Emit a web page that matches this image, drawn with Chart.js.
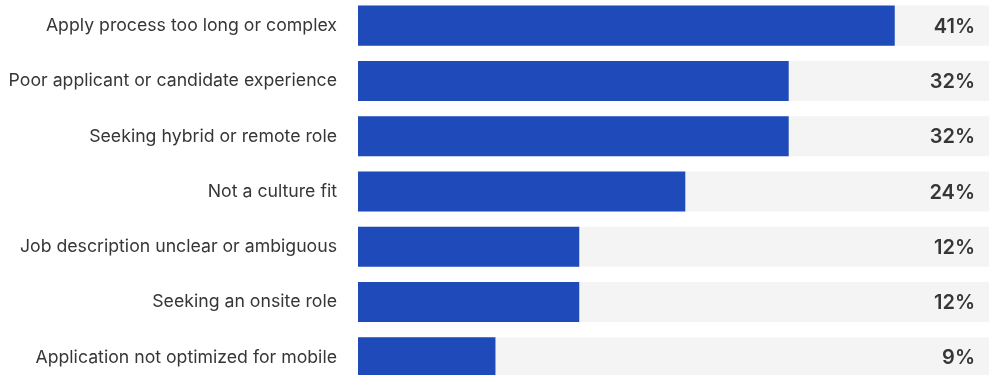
<!DOCTYPE html>
<html>
<head>
<meta charset="utf-8">
<script src="https://cdn.jsdelivr.net/npm/chart.js@4.4.1/dist/chart.umd.min.js"></script>
<style>
    html, body { margin: 0; padding: 0; background: #fff; overflow: hidden; }
    #reasonsChart { position: absolute; left: 0; top: -2px; }
</style>
</head>
<body>
<canvas id="reasonsChart" width="989" height="387"></canvas>
<script>
// Reasons candidates drop out of applying
const categories = [
    'Apply process too long or complex',
    'Poor applicant or candidate experience',
    'Seeking hybrid or remote role',
    'Not a culture fit',
    'Job description unclear or ambiguous',
    'Seeking an onsite role',
    'Application not optimized for mobile'
];
// printed percentages
const percentLabels = [41, 32, 32, 24, 12, 12, 9];
// bar lengths as drawn in the picture (same scale as the track)
const barValues = [41, 32.9, 32.9, 25, 16.9, 16.9, 10.5];
const trackMax = 48.2;
const trackValues = categories.map(() => trackMax);

const textColor = '#363636';

// Draw the % numbers at the right end of each track
const valueLabels = {
    id: 'valueLabels',
    afterDatasetsDraw(chart) {
        const { ctx, chartArea } = chart;
        const meta = chart.getDatasetMeta(0);
        ctx.save();
        ctx.font = '600 20px Inter';
        ctx.fillStyle = textColor;
        ctx.textAlign = 'right';
        ctx.textBaseline = 'middle';
        meta.data.forEach((bar, i) => {
            ctx.fillText(percentLabels[i] + '%', chartArea.right - 14, bar.y + 1);
        });
        ctx.restore();
    }
};

const ctx = document.getElementById('reasonsChart').getContext('2d');
new Chart(ctx, {
    type: 'bar',
    data: {
        labels: categories,
        datasets: [{
            data: barValues,
            backgroundColor: '#1E4BB9',
            grouped: false,
            order: 0,
            categoryPercentage: 0.725,
            barPercentage: 1
        }, {
            data: trackValues,
            backgroundColor: '#F4F4F4',
            grouped: false,
            order: 1,
            categoryPercentage: 0.725,
            barPercentage: 1
        }]
    },
    options: {
        indexAxis: 'y',
        responsive: false,
        animation: false,
        layout: { padding: 0 },
        plugins: {
            legend: { display: false },
            tooltip: { enabled: false }
        },
        scales: {
            x: {
                display: false,
                min: 0,
                max: trackMax
            },
            y: {
                grid: { display: false, drawTicks: false },
                border: { display: false },
                afterFit(scale) {
                    // fixed label column, no extra top/bottom room
                    scale.width = 358;
                    scale.paddingTop = 0;
                    scale.paddingBottom = 0;
                },
                ticks: {
                    padding: 21,
                    color: textColor,
                    font: { family: 'Inter', size: 17.7 }
                }
            }
        }
    },
    plugins: [valueLabels]
});
</script>
</body>
</html>
